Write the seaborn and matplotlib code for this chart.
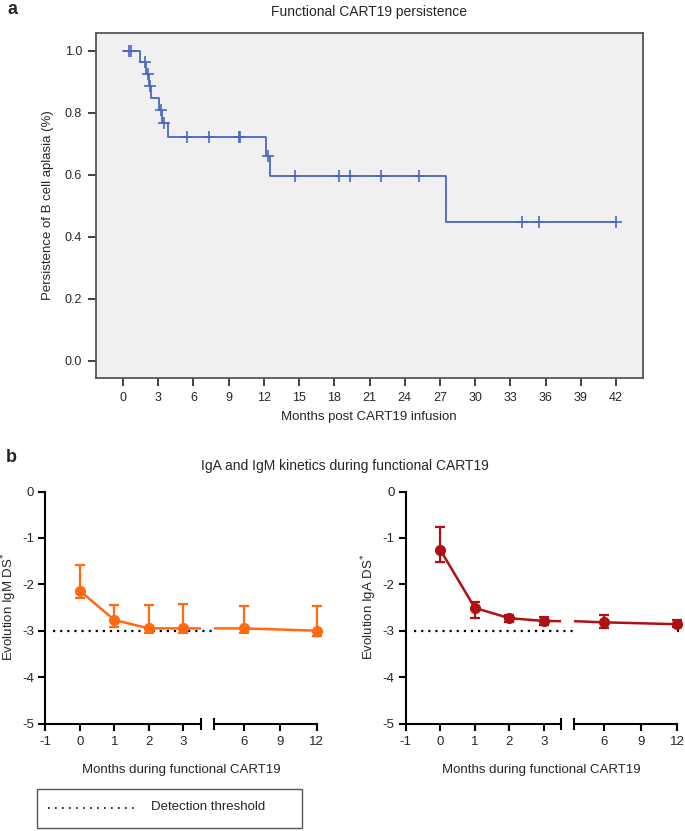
import matplotlib
matplotlib.use("Agg")
import numpy as np
import matplotlib.pyplot as plt
import seaborn as sns
from matplotlib.patches import Rectangle
from matplotlib.lines import Line2D

# ---- data: panel a (Kaplan-Meier, persistence of B cell aplasia) ----
km_times = [0, 1.47, 1.96, 2.2, 2.36, 3.1, 3.32, 3.86, 12.2, 12.55, 27.55, 42.0]
km_surv = [1.0, 0.963, 0.926, 0.887, 0.848, 0.808, 0.766, 0.722, 0.660, 0.596, 0.447, 0.447]
censor_times = [0.54, 0.71, 1.85, 2.1, 2.28, 3.2, 3.49, 5.42, 7.3, 9.85, 10.0,
                12.38, 14.65, 18.4, 19.33, 21.98, 25.19, 34.0, 35.43, 42.0]
km_xticks = list(range(0, 43, 3))
km_yticks = [0.0, 0.2, 0.4, 0.6, 0.8, 1.0]

# ---- data: panel b (IgM / IgA kinetics) ----
months = [0, 1, 2, 3, 6, 12]
igm = [-2.14, -2.77, -2.95, -2.95, -2.95, -3.00]
igm_low = [-2.29, -2.92, -3.06, -3.06, -3.06, -3.12]
igm_high = [-1.58, -2.44, -2.45, -2.42, -2.46, -2.46]
iga = [-1.26, -2.51, -2.73, -2.79, -2.82, -2.86]
iga_low = [-1.53, -2.73, -2.81, -2.87, -2.94, -2.93]
iga_high = [-0.77, -2.39, -2.67, -2.71, -2.67, -2.78]
threshold = -3
seg1_ticks = [-1, 0, 1, 2, 3]
seg2_ticks = [6, 9, 12]
ds_ticks = [0, -1, -2, -3, -4, -5]

sns.set_style("ticks")
plt.rcParams['font.family'] = ['Liberation Sans', 'DejaVu Sans']
plt.rcParams['font.size'] = 9

W, H = 685, 831
fig = plt.figure(figsize=(W / 100, H / 100), dpi=100)


def box(l, t, r, b):
    return [l / W, 1 - b / H, (r - l) / W, (b - t) / H]


def ftxt(x, y, s, **kw):
    fig.text(x / W, 1 - y / H, s, **kw)


# ---------------- panel a ----------------
blue = "#4a67c0"
ax = fig.add_axes(box(96, 33, 643, 378))
ax.set_facecolor("#f0f0f0")
sns.lineplot(x=km_times, y=km_surv, ax=ax, drawstyle="steps-post", color=blue, lw=1.3)
idx = np.searchsorted(km_times, censor_times, side="right") - 1
cens_lvl = np.array(km_surv)[idx]
ax.plot(censor_times, cens_lvl, ls="none", marker="+", ms=8, mew=1.2, color=blue)
ax.set_xlim(-2.3, 44.3)
ax.set_ylim(-0.056, 1.058)
ax.set_xticks(km_xticks)
ax.set_yticks(km_yticks)
ax.set_yticklabels([f"{v:.1f}" for v in km_yticks])
for s in ax.spines.values():
    s.set_color("#555555")
    s.set_linewidth(1.3)
ax.tick_params(direction="out", length=6, width=1.3, color="#333333", labelsize=9, pad=4)
ax.set_xlabel("")
ax.set_ylabel("")

ftxt(7, 10, "a", fontsize=13, fontweight="bold", va="center")
ftxt(369, 12, "Functional CART19 persistence", fontsize=10, ha="center", va="center")
ftxt(48, 205, "Persistence of B cell aplasia (%)", fontsize=9.5, rotation=90, ha="center", va="center")
ftxt(369, 417, "Months post CART19 infusion", fontsize=9.5, ha="center", va="center")

# ---------------- panel b ----------------
ftxt(6, 457, "b", fontsize=13, fontweight="bold", va="center")
ftxt(345, 466, "IgA and IgM kinetics during functional CART19", fontsize=10, ha="center", va="center")


def kinetics(x0, vals, low, high, color, ylabel):
    a1 = fig.add_axes(box(x0 + 45.3, 491.5, x0 + 200.7, 723.5))
    a2 = fig.add_axes(box(x0 + 213.7, 491.5, x0 + 316.7, 723.5))
    vals = np.array(vals)
    err = np.array([vals - np.array(low), np.array(high) - vals])
    m = np.array(months)
    for a, lo, hi, ticks in [(a1, -1, 3.5, seg1_ticks), (a2, 3.5, 12, seg2_ticks)]:
        sns.lineplot(x=months, y=vals, ax=a, color=color, lw=1.8)
        sel = (m >= lo) & (m <= hi)
        eb = a.errorbar(m[sel], vals[sel], yerr=err[:, sel], fmt="o", ms=7, color=color,
                        ecolor=color, elinewidth=1.6, capsize=3.5, capthick=1.6, clip_on=False, zorder=5)
        for art in eb.lines[1] + eb.lines[2]:
            art.set_clip_on(False)
        eb.lines[0].set_clip_on(False)
        a.set_xlim(lo, hi)
        a.set_ylim(-5, 0)
        a.set_xlabel("")
        a.set_ylabel("")
        for s in ["top", "right"]:
            a.spines[s].set_visible(False)
        a.spines["bottom"].set_linewidth(1.5)
        a.spines["bottom"].set_color("black")
        a.set_xticks(ticks)
        a.set_xticklabels([str(t) for t in ticks])
        a.set_xticks([3.5], minor=True)
        a.tick_params(axis="x", which="minor", direction="inout", length=9, width=1.5, color="black")
        a.tick_params(axis="both", which="major", direction="out", length=5, width=1.5,
                      color="black", labelsize=9.5, pad=4)
    a1.set_yticks(ds_ticks)
    a1.set_yticklabels([str(t) for t in ds_ticks])
    a1.tick_params(axis="y", pad=3)
    a1.spines["left"].set_linewidth(1.5)
    a1.spines["left"].set_color("black")
    a2.spines["left"].set_visible(False)
    a2.set_yticks([])
    # detection threshold spanning the axis break
    a1.axhline(threshold, xmin=0.05, xmax=1.76, color="black", ls=(0, (1, 2.2)), lw=1.6,
               clip_on=False, zorder=1)
    ftxt(x0 + 181, 770, "Months during functional CART19", fontsize=9.5, ha="center", va="center")
    ftxt(x0 + 9, 607, ylabel, fontsize=9.5, rotation=90, ha="center", va="center")


kinetics(0, igm, igm_low, igm_high, "#ff6a13", "Evolution IgM DS$^{*}$")
kinetics(360.5, iga, iga_low, iga_high, "#b01014", "Evolution IgA DS$^{*}$")

# legend box
fig.add_artist(Rectangle((36.7 / W, 1 - 828 / H), (301.7 - 36.7) / W, (828 - 789.3) / H,
                         transform=fig.transFigure, fill=False, edgecolor="#555555", lw=1.0))
fig.add_artist(Line2D([48 / W, 134 / W], [1 - 807.7 / H] * 2, transform=fig.transFigure,
                      color="black", ls=(0, (1, 3.2)), lw=1.2))
ftxt(151, 807, "Detection threshold", fontsize=9.5, va="center")

fig.savefig("out.png", dpi=100)
